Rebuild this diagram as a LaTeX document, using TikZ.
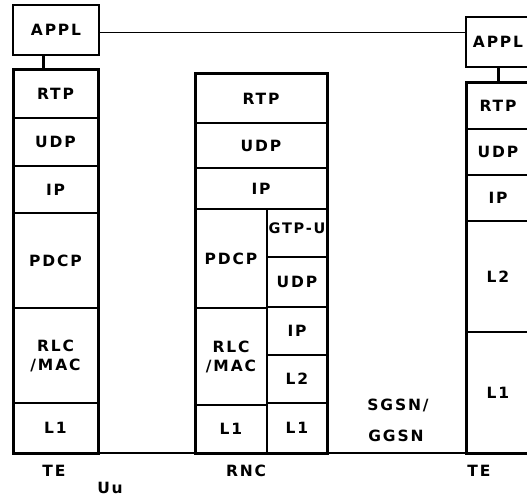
\documentclass[tikz,border=0pt]{standalone}
\usepackage{fontspec}
\setmainfont{DejaVu Sans}[LetterSpace=12]
\begin{document}
\begin{tikzpicture}[x=1pt,y=-1pt,
  layer/.style={draw, line width=1.8pt, inner sep=0pt, outer sep=0pt, align=center,
    font=\fontsize{15.5}{19}\selectfont\bfseries},
  outer/.style={line width=3pt},
  conn/.style={line width=3pt},
  thin/.style={line width=1pt},
  base/.style={line width=2pt},
  lbl/.style={inner sep=0pt, font=\fontsize{15.5}{17}\selectfont\bfseries}]
\useasboundingbox (0,0) rectangle (527,497);
\clip (0,0) rectangle (527,497);
\newcommand\layer[6]{\node[layer, minimum width={(#4-#2)*1pt}, minimum height={(#5-#3)*1pt}] (#1) at ({(#2+#4)/2},{(#3+#5)/2}) {#6};}
% left stack
\layer{applL}{13}{5}{99}{55}{APPL}
\layer{lRTP}{13}{70}{98}{118}{RTP}
\layer{lUDP}{13}{118}{98}{166}{UDP}
\layer{lIP}{13}{166}{98}{213}{IP}
\layer{lPDCP}{13}{213}{98}{308}{PDCP}
\layer{lRLC}{13}{308}{98}{403}{RLC\\/MAC}
\layer{lL1}{13}{403}{98}{453}{L1}
\draw[outer] (lRTP.north west) rectangle (lL1.south east);
\draw[conn] ([xshift=-13pt]applL.south) -- ([xshift=-13pt]applL.south |- lRTP.north);
% middle stack
\layer{mRTP}{195}{74}{327}{123}{RTP}
\layer{mUDP}{195}{123}{327}{168}{UDP}
\layer{mIP}{195}{168}{327}{209}{IP}
\layer{mPDCP}{195}{209}{267}{308}{PDCP}
\layer{mRLC}{195}{308}{267}{405}{RLC\\/MAC}
\layer{mL1}{195}{405}{267}{453}{L1}
\layer{mGTP}{267}{209}{327}{257}{\raisebox{9pt}{\fontsize{14.5}{17}\selectfont GTP-U}}
\layer{mUDPb}{267}{257}{327}{307}{UDP}
\layer{mIPb}{267}{307}{327}{355}{IP}
\layer{mL2}{267}{355}{327}{403}{L2}
\layer{mL1b}{267}{403}{327}{453}{L1}
\draw[outer] (mRTP.north west) rectangle (mL1b.south east);
% right stack
\layer{applR}{466}{17}{530}{67}{APPL}
\layer{rRTP}{466}{83}{530}{129}{RTP}
\layer{rUDP}{466}{129}{530}{175}{UDP}
\layer{rIP}{466}{175}{530}{221}{IP}
\layer{rL2}{466}{221}{530}{332}{L2}
\layer{rL1}{466}{332}{530}{453}{L1}
\draw[outer] (rRTP.north west) rectangle (rL1.south east);
\draw[conn] (applR.south) -- (applR.south |- rRTP.north);
% peer line and baseline
\draw[thin] ([yshift=-3pt]applL.east) -- ([yshift=-3pt]applL.east -| applR.west);
\coordinate (bend) at (527,453);
\draw[base] (lL1.south west) -- (bend);
% labels
\node[lbl] (teL) at (54,471) {TE};
\node[lbl] (uu) at (110,488) {Uu};
\node[lbl] (rnc) at (246,471) {RNC};
\node[lbl] (teR) at (479,471) {TE};
\node[lbl] (sg1) at (398,405) {SGSN/};
\node[lbl] (sg2) at (396,436) {GGSN};
\end{tikzpicture}
\end{document}
